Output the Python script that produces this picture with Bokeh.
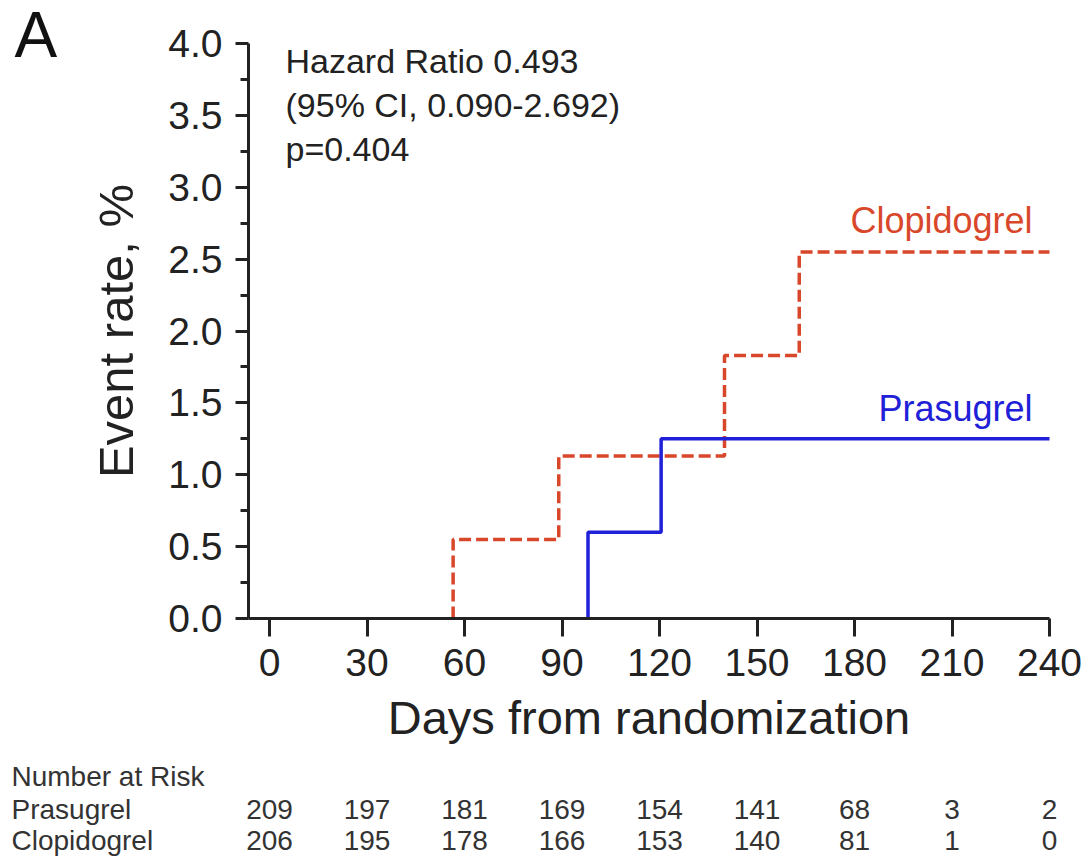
from bokeh.plotting import figure
from bokeh.models import Range1d, FixedTicker, LinearAxis, ColumnDataSource, CustomJSTickFormatter
from bokeh.core.properties import value
from bokeh.embed import file_html
from bokeh.resources import INLINE

# ---------------- data ----------------
x_ticks = [0, 30, 60, 90, 120, 150, 180, 210, 240]
y_ticks = [0.0, 0.5, 1.0, 1.5, 2.0, 2.5, 3.0, 3.5, 4.0]
follow_up_end = 240

clop_times = [56.5, 89, 140, 163]
clop_rates = [0.55, 1.13, 1.83, 2.55]
pras_times = [98, 120.5]
pras_rates = [0.60, 1.25]

risk_days = [0, 30, 60, 90, 120, 150, 180, 210, 240]
risk_prasugrel = [209, 197, 181, 169, 154, 141, 68, 3, 2]
risk_clopidogrel = [206, 195, 178, 166, 153, 140, 81, 1, 0]
risk_rows = ["Number at Risk", "Prasugrel", "Clopidogrel"]

annotation_lines = ["Hazard Ratio 0.493", "(95% CI, 0.090-2.692)", "p=0.404"]

# ---------------- layout / styles ----------------
W, H = 1082, 865
DAY0_PX, PX_PER_DAY = 269.0, 3.25       # page x of day 0, px per day
RATE0_PX, PX_PER_RATE = 618.0, 143.75   # page y of 0 %, px per 1 %

FONT = "Liberation Sans"
CLOP_COLOR = "#d9472b"
PRAS_COLOR = "#2020d8"
INK = "#222222"


def dx(page_x):
    return (page_x - DAY0_PX) / PX_PER_DAY


def dy(page_y):
    return (RATE0_PX - page_y) / PX_PER_RATE


def km_path(times, rates, end):
    xs = [times[0]] + list(times) + [end]
    ys = [0.0] + list(rates) + [rates[-1]]
    return xs, ys


p = figure(width=W, height=H,
           x_range=Range1d(dx(0), dx(W)), y_range=Range1d(dy(H), dy(0)),
           x_axis_location=None, y_axis_location=None,
           output_backend="svg", toolbar_location=None, min_border=0)
p.outline_line_color = None
p.grid.visible = False
p.background_fill_color = "white"
p.border_fill_color = "white"

AXIS_X = dx(248)

# curves
cx, cy = km_path(clop_times, clop_rates, follow_up_end)
p.step(cx, cy, mode="after", line_color=CLOP_COLOR, line_width=3.5,
       line_dash="12 5")
px_, py_ = km_path(pras_times, pras_rates, follow_up_end)
p.step(px_, py_, mode="after", line_color=PRAS_COLOR, line_width=3.5)

# axes (drawn at fixed data locations)
xa = LinearAxis(fixed_location=0, bounds=(AXIS_X, x_ticks[-1]),
                ticker=FixedTicker(ticks=x_ticks),
                axis_label="Days from randomization")
ya = LinearAxis(fixed_location=AXIS_X, bounds=(y_ticks[0], y_ticks[-1]),
                ticker=FixedTicker(ticks=y_ticks,
                                   minor_ticks=[v + 0.25 for v in y_ticks[:-1]]),
                formatter=CustomJSTickFormatter(code="return tick.toFixed(1);"),
                axis_label="Event rate, %")

for ax in (xa, ya):
    ax.axis_line_width = 3
    ax.axis_line_color = INK
    ax.major_tick_line_width = 3
    ax.major_tick_line_color = INK
    ax.minor_tick_line_width = 3
    ax.minor_tick_line_color = INK
    ax.major_label_text_font = FONT
    ax.major_label_text_font_size = "39px"
    ax.major_label_text_color = INK
    ax.axis_label_text_font = FONT
    ax.axis_label_text_font_style = "normal"
    ax.axis_label_text_color = INK

xa.axis_label_text_font_size = "47px"
xa.major_tick_in = 0
xa.major_tick_out = 18
xa.minor_tick_in = 0
xa.minor_tick_out = 0
xa.major_label_standoff = 12
xa.axis_label_standoff = 12

ya.axis_label_text_font_size = "49px"
ya.major_tick_in = 0
ya.major_tick_out = 13
ya.minor_tick_in = 0
ya.minor_tick_out = 8
ya.major_label_standoff = 13
ya.axis_label_standoff = 22

p.add_layout(xa, "below")
p.add_layout(ya, "left")

# panel letter
p.text(x=[dx(14)], y=[dy(34)], text=["A"], text_font=value(FONT),
       text_font_size="64px", text_color="#111111",
       text_baseline="middle", text_align="left")

# annotation block
p.text(x=[dx(285)] * 3, y=[dy(60), dy(104), dy(148)], text=annotation_lines,
       text_font=value(FONT), text_font_size="34px", text_color=INK,
       text_baseline="middle", text_align="left")

# series labels
p.text(x=[dx(1032)], y=[dy(220)], text=["Clopidogrel"], text_font=value(FONT),
       text_font_size="36px", text_color=CLOP_COLOR,
       text_align="right", text_baseline="middle")
p.text(x=[dx(1032)], y=[dy(408)], text=["Prasugrel"], text_font=value(FONT),
       text_font_size="36px", text_color=PRAS_COLOR,
       text_align="right", text_baseline="middle")

# ---------------- risk table ----------------
row_y = [dy(776), dy(809), dy(840)]
p.text(x=[dx(11)] * 3, y=row_y, text=risk_rows, text_font=value(FONT),
       text_font_size="28px", text_color="#333333", text_baseline="middle",
       text_align="left")

src = ColumnDataSource(dict(
    x=risk_days + risk_days,
    y=[row_y[1]] * len(risk_days) + [row_y[2]] * len(risk_days),
    txt=[str(v) for v in risk_prasugrel] + [str(v) for v in risk_clopidogrel],
))
p.text(x="x", y="y", text="txt", source=src, text_font=value(FONT),
       text_font_size="28px", text_color="#333333", text_baseline="middle",
       text_align="center")

open("out.html", "w").write(file_html(p, INLINE))
